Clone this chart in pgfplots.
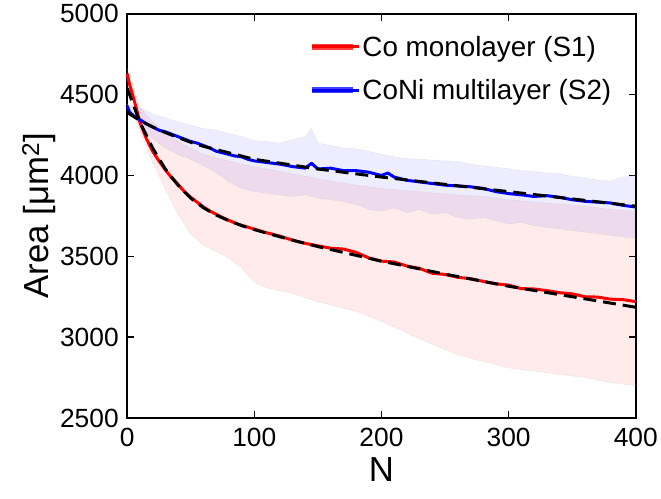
\documentclass[border=0pt]{standalone}
\usepackage{pgfplots}
\pgfplotsset{compat=1.18}
\usepackage{pgfplotstable}
\usepgfplotslibrary{fillbetween}
\usepackage{fontspec}
\setmainfont{Liberation Sans}

\pgfplotstableread{
N mean
0 4630
2 4560
5 4480
8 4390
10 4330
15 4230
20 4150
25 4090
30 4035
35 3985
40 3945
45 3900
50 3865
55 3835
60 3805
65 3780
70 3760
75 3740
80 3722
85 3705
90 3692
95 3680
100 3668
110 3645
120 3625
130 3600
140 3580
150 3565
160 3550
170 3545
180 3525
190 3490
200 3470
210 3465
220 3440
230 3425
240 3395
250 3388
260 3370
270 3362
280 3345
290 3330
300 3322
310 3300
320 3298
330 3288
340 3275
350 3268
360 3250
370 3248
380 3235
390 3232
400 3220
}\redmean

\pgfplotstableread{
N lo hi
0 4600 4660
5 4450 4560
10 4280 4420
20 4080 4330
30 3920 4260
40 3760 4210
50 3640 4170
60 3570 4130
70 3530 4110
80 3490 4090
90 3430 4070
100 3340 4055
110 3305 4040
130 3270 4010
150 3220 3980
180 3160 3940
200 3100 3920
230 2990 3900
260 2890 3880
280 2850 3870
300 2810 3850
330 2780 3830
360 2750 3810
380 2720 3790
400 2700 3780
}\redband

\pgfplotstableread{
N mean
0 4430
2 4390
5 4370
10 4345
15 4320
20 4300
25 4280
30 4270
35 4255
40 4240
45 4225
50 4210
55 4200
60 4185
65 4170
70 4150
75 4140
80 4130
85 4120
90 4115
95 4100
100 4090
110 4080
120 4070
130 4055
140 4045
145 4075
150 4040
160 4045
170 4030
180 4030
190 4020
200 4000
205 4015
210 3990
220 3970
230 3960
240 3950
250 3940
260 3935
270 3930
280 3920
290 3900
300 3888
310 3880
320 3870
330 3875
340 3865
350 3850
360 3840
370 3835
380 3830
390 3815
400 3805
}\bluemean

\pgfplotstableread{
N lo hi
0 4420 4440
10 4300 4420
20 4230 4380
30 4170 4355
40 4130 4330
50 4100 4310
60 4060 4290
70 4020 4280
80 3960 4260
90 3920 4240
100 3900 4215
110 3890 4210
120 3880 4200
130 3870 4220
140 3880 4240
145 3870 4290
150 3860 4200
160 3850 4185
170 3840 4170
180 3820 4165
190 3790 4150
200 3780 4130
210 3800 4115
220 3770 4103
230 3790 4100
240 3760 4095
250 3770 4090
260 3740 4085
270 3730 4070
280 3740 4060
290 3720 4050
300 3700 4042
310 3710 4030
320 3690 4025
330 3680 4015
340 3670 4010
350 3660 3995
360 3650 3985
370 3640 3970
380 3630 3965
390 3620 3990
400 3610 4000
}\blueband

\pgfplotstableread{
N fit
0 4540
10 4330
20 4170
30 4040
40 3940
50 3860
60 3800
70 3755
80 3720
90 3690
100 3665
125 3610
150 3560
175 3515
200 3470
250 3390
300 3315
350 3250
400 3185
}\redfit

\pgfplotstableread{
N fit
0 4390
10 4340
20 4300
30 4265
40 4235
50 4205
60 4180
70 4160
80 4140
90 4120
100 4100
125 4070
150 4040
175 4015
200 3990
250 3945
300 3900
350 3855
400 3810
}\bluefit

\begin{document}
\begin{tikzpicture}
\begin{axis}[
  width=512pt, height=407pt, scale only axis,
  xmin=0, xmax=400, ymin=2500, ymax=5000,
  xtick={0,100,200,300,400},
  ytick={2500,3000,3500,4000,4500,5000},
  tick align=inside,
  major tick length=7pt,
  axis line style={line width=1.6pt},
  every tick/.style={line width=1.4pt, black},
  /pgf/number format/assume math mode=true,
  /pgf/number format/1000 sep={},
  ticklabel style={font=\fontsize{26.5}{30}\selectfont},
  xticklabel style={yshift=-7pt},
  yticklabel style={xshift=-5pt},
  xlabel={N},
  ylabel={Area [μm\textsuperscript{2}]},
  label style={font=\fontsize{35}{42}\selectfont},
  xlabel style={yshift=-4pt},
  ylabel style={yshift=-2pt},
  clip=false,
  legend style={at={(rel axis cs:0.352,0.955)}, anchor=north west,
    draw=none, fill=none, font=\fontsize{28}{32}\selectfont,
    row sep=18pt},
  legend cell align=left,
  legend image code/.code={\path (0pt,0pt) -- (47pt,0pt);\draw[line width=6pt, opacity=0.75] (0pt,0pt) -- (41pt,0pt);},
]
\path (rel axis cs:-0.25,-0.199) rectangle (rel axis cs:1.041,1.034);

% red band
\addplot[name path=ru, draw=gray!50, line width=0.4pt, densely dotted, forget plot] table[x=N, y=hi] {\redband};
\addplot[name path=rl, draw=gray!50, line width=0.4pt, densely dotted, forget plot] table[x=N, y=lo] {\redband};
\addplot[fill=red, fill opacity=0.08, draw=none, forget plot] fill between[of=ru and rl];
% blue band
\addplot[name path=bu, draw=gray!50, line width=0.4pt, densely dotted, forget plot] table[x=N, y=hi] {\blueband};
\addplot[name path=bl, draw=gray!50, line width=0.4pt, densely dotted, forget plot] table[x=N, y=lo] {\blueband};
\addplot[fill=blue, fill opacity=0.07, draw=none, forget plot] fill between[of=bu and bl];

\addplot[color=red, line width=3pt, line join=round] table[x=N, y=mean] {\redmean};
\addlegendentry{Co monolayer (S1)}
\addplot[color=blue, line width=3pt, line join=round] table[x=N, y=mean] {\bluemean};
\addlegendentry{CoNi multilayer (S2)}

\addplot[black, line width=3pt, dash pattern=on 13pt off 7pt, forget plot] table[x=N, y=fit] {\redfit};
\addplot[black, line width=3pt, dash pattern=on 13pt off 7pt, forget plot] table[x=N, y=fit] {\bluefit};
\end{axis}
\end{tikzpicture}
\end{document}
